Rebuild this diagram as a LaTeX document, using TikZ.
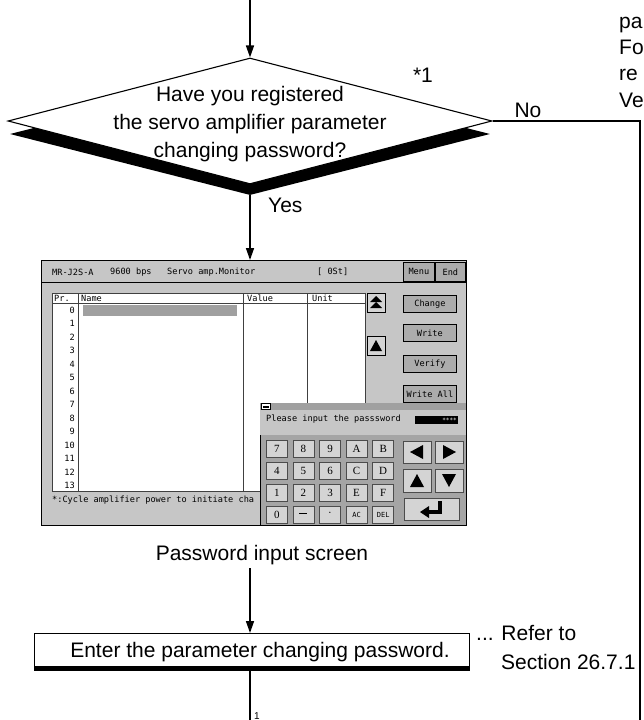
\documentclass[tikz,border=0pt]{standalone}
\usepackage{fontspec}
\setmainfont{Liberation Sans}
\newfontfamily\scrfont{DejaVu Sans Mono}
\newfontfamily\keyfont{Liberation Serif}
\usetikzlibrary{arrows.meta,shapes.geometric}
\definecolor{scrgray}{RGB}{198,198,198}
\definecolor{btngray}{RGB}{172,172,172}
\definecolor{bargray}{RGB}{160,160,160}
\definecolor{padgray}{RGB}{165,165,165}
\definecolor{titlegray}{RGB}{160,160,160}
\definecolor{keygray}{RGB}{212,212,212}
\begin{document}
\begin{tikzpicture}[x=1pt,y=-1pt,
  main/.style={font=\fontsize{21}{26}\selectfont, inner sep=0pt},
  conn/.style={line width=1.5pt},
  arr/.style={conn,-{Triangle[length=12pt,width=8pt]}},
  mono/.style={font=\fontsize{8.6}{10}\selectfont\scrfont, inner sep=0pt},
  sbtn/.style={draw=black, line width=0.8pt, fill=btngray, inner sep=0pt, anchor=north west, font=\fontsize{8.6}{10}\selectfont\scrfont},
  keybox/.style={draw=black!70, line width=0.6pt, fill=keygray, minimum width=21pt, minimum height=17pt, inner sep=0pt, font=\fontsize{11}{11}\selectfont\keyfont, anchor=north west},
]
\useasboundingbox (0,0) rectangle (643,720);

% ---------- decision ----------
\node[diamond, fill=black, minimum width=480pt, minimum height=122pt, inner sep=0pt] (decsh) at (250,134) {};
\node[diamond, draw=black, fill=white, line width=1.1pt, minimum width=484pt, minimum height=126pt, inner sep=0pt] (dec) at (250,121) {};
\node[main, align=center, font=\fontsize{21}{28}\selectfont] (dectext) at (250,124) {Have you registered\\the servo amplifier parameter\\changing password?};
\node[main, anchor=base] (star) at (423,82) {*1};
\node[main, anchor=base] (no) at (528,117) {No};
\node[main, anchor=base west] (yes) at (268,212) {Yes};

% ---------- side text (cut off in the source) ----------
\node[main, anchor=base west] (side1) at (619,28) {pa};
\node[main, anchor=base west] (side2) at (619,54) {Fo};
\node[main, anchor=base west] (side3) at (619,80) {re};
\node[main, anchor=base west] (side4) at (619,107) {Ve};

% ---------- screenshot ----------
\node[draw=black, fill=scrgray, line width=0.8pt, minimum width=425pt, minimum height=265pt, inner sep=0pt, anchor=north west] (screen) at (41,260) {};
\node[mono, anchor=west] (t1) at (52,272) {MR-J2S-A};
\node[mono, anchor=west] (t2) at (110,272) {9600 bps};
\node[mono, anchor=west] (t3) at (167,272) {Servo amp.Monitor};
\node[mono, anchor=west] (t4) at (317,272) {[ 0St]};
\draw[line width=0.6pt] (41,282) -- (466,282);
\node[sbtn, minimum width=31pt, minimum height=19pt] (menu) at (403,262) {Menu};
\node[sbtn, minimum width=30pt, minimum height=19pt] (endb) at (435,262) {End};

% table
\draw[fill=white, draw=black!75, line width=0.6pt] (52,293) rectangle (365,491);
\draw[draw=black!75, line width=0.6pt] (52,303) -- (365,303);
\foreach \cx in {78,243,307} \draw[draw=black!75, line width=0.6pt] (\cx,293) -- (\cx,491);
\node[mono, anchor=west] (hpr) at (54,298) {Pr.};
\node[mono, anchor=west] (hname) at (81,298) {Name};
\node[mono, anchor=west] (hval) at (247,298) {Value};
\node[mono, anchor=west] (hunit) at (312,298) {Unit};
\fill[bargray] (83,305) rectangle (237,316);
\foreach \i in {0,...,13} \node[mono, anchor=base east] (pr\i) at (75,313.5+13.46*\i) {\i};

% scroll buttons
\draw[fill=keygray, line width=0.9pt] (367,293) rectangle (385,312);
\fill (370,302) -- (376,296) -- (382,302) -- cycle;
\fill (370,308) -- (376,302) -- (382,308) -- cycle;
\draw[fill=keygray, line width=0.9pt] (367,336) rectangle (385,355);
\fill (370,351) -- (376,340) -- (382,351) -- cycle;

% side buttons
\node[sbtn, minimum width=53pt, minimum height=17pt] (chg) at (403,295) {Change};
\node[sbtn, minimum width=53pt, minimum height=17pt] (wrt) at (403,324) {Write};
\node[sbtn, minimum width=53pt, minimum height=17pt] (ver) at (403,355) {Verify};
\node[sbtn, minimum width=53pt, minimum height=17pt] (wall) at (403,385) {Write All};

\node[mono, anchor=west] (note) at (52,500) {*:Cycle amplifier power to initiate cha};

% keypad window
\draw[fill=padgray, line width=0.8pt] (260,403) rectangle (466,525);
\fill[titlegray] (260.4,403.4) rectangle (465.6,410);
\draw[fill=white, line width=0.6pt] (261,403.5) rectangle (270,409.5);
\fill (262.5,405.5) rectangle (268.5,407.5);
\fill[scrgray] (260.4,410) rectangle (465.6,435);
\node[mono, anchor=west] (pw) at (266,419) {Please input the passsword};
\fill (415,415.5) rectangle (458,424);
\node[mono, text=white, anchor=east, font=\fontsize{6}{6}\selectfont\scrfont] (stars) at (457,420) {****};

\foreach \r/\labs in {0/{7,8,9,A,B},1/{4,5,6,C,D},2/{1,2,3,E,F},3/{0,{\rule[3pt]{8pt}{0.7pt}},·,{\smallkeyfont AC},{\smallkeyfont DEL}}}{
  \foreach \lab [count=\c from 0] in \labs {
    \node[keybox] (key\r\c) at (266+26.6*\c,440+22*\r) {\def\smallkeyfont{\fontsize{7}{7}\selectfont\scrfont}\lab};
  }
}

\node[keybox, minimum width=28pt, minimum height=22pt] (kleft) at (403,441) {};
\node[keybox, minimum width=28pt, minimum height=22pt] (kright) at (435,441) {};
\node[keybox, minimum width=28pt, minimum height=23pt] (kup) at (403,469) {};
\node[keybox, minimum width=28pt, minimum height=23pt] (kdown) at (435,469) {};
\node[keybox, minimum width=55pt, minimum height=22pt] (kenter) at (404,498) {};
\fill (410,452) -- (423,445) -- (423,459) -- cycle;
\fill (456,452) -- (443,445) -- (443,459) -- cycle;
\fill (410,487) -- (417,474) -- (424,487) -- cycle;
\fill (442,474) -- (456,474) -- (449,487) -- cycle;
\draw[line width=3.5pt] (440,501) -- (440,512) -- (428,512);
\fill (420,512) -- (429,506) -- (429,518) -- cycle;

% ---------- caption and process box ----------
\node[main, anchor=base, inner ysep=0pt] (cap) at (262,560) {Password input screen};
\coordinate (capout) at (250,568);
\node[fill=black, minimum width=436pt, minimum height=6pt, inner sep=0pt, anchor=north west] (entersh) at (34,665) {};
\node[draw=black, fill=white, line width=1.1pt, minimum width=435pt, minimum height=33pt, inner sep=0pt, anchor=north west] (enter) at (34,633) {};
\node[main, anchor=base] (entertext) at (260,657) {Enter the parameter changing password.};
\node[main, anchor=base west] (ref1) at (476,640) {... Refer to};
\node[main, anchor=base west] (ref2) at (501,669) {Section 26.7.1};
\node[anchor=base west, inner sep=0pt, font=\fontsize{10}{10}\selectfont] (cut1) at (254,719) {1};

% ---------- connectors ----------
\coordinate (topin) at (250,-2);
\coordinate (noturn) at (640,121);
\coordinate (noend) at (640,725);
\coordinate (bottomend) at (250,725);
\draw[arr] (topin) -- (dec.north);
\draw[conn] (dec.east) -- (noturn) -- (noend);
\draw[arr] (decsh.south) -- (decsh.south |- screen.north);
\draw[arr] (capout) -- (decsh.south |- enter.north);
\draw[conn] (decsh.south |- entersh.south) -- (bottomend);
\end{tikzpicture}
\end{document}
